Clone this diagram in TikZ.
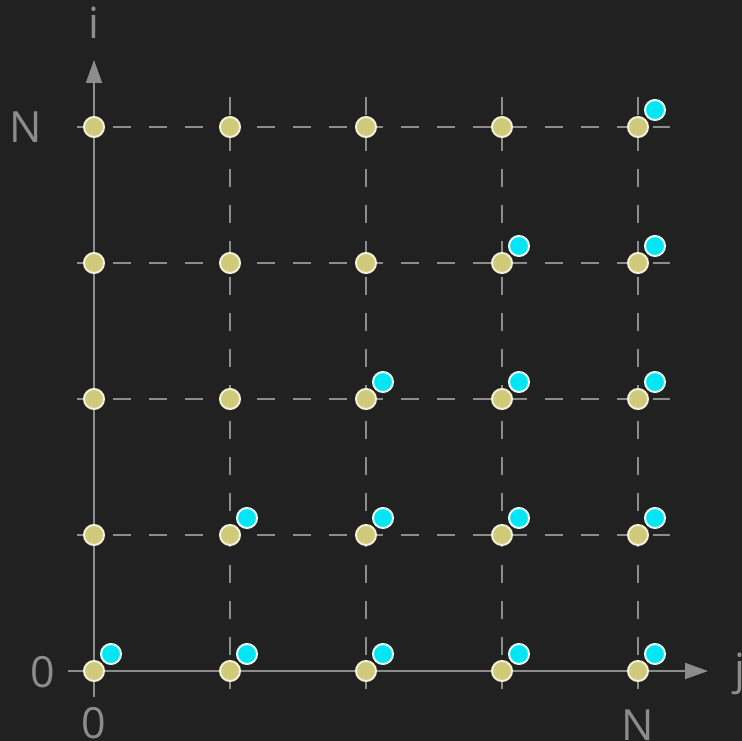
\documentclass[tikz,border=0pt]{standalone}
\usepackage{fontspec}
\setmainfont{Open Sans}
\usetikzlibrary{arrows.meta}
\definecolor{bg}{HTML}{212121}
\definecolor{axisgray}{HTML}{8C8C8C}
\definecolor{dotyellow}{HTML}{D0C97A}
\definecolor{dotyellowrim}{HTML}{F3F1DA}
\definecolor{dotcyan}{HTML}{00E6F4}
\definecolor{dotcyanrim}{HTML}{EAFFFF}
\tikzset{
  gridline/.style={draw=axisgray, line width=1.6pt, dash pattern=on 18pt off 18pt},
  axisline/.style={draw=axisgray, line width=2pt, -{Triangle[length=23pt,width=16pt]}},
  ydot/.style={circle, fill=dotyellow, draw=dotyellowrim, line width=2pt, minimum size=20pt, inner sep=0pt},
  cdot/.style={circle, fill=dotcyan, draw=dotcyanrim, line width=2pt, minimum size=20pt, inner sep=0pt},
  lbl/.style={text=axisgray, font=\fontsize{43}{48}\selectfont, inner sep=0pt, anchor=base}
}
\begin{document}
\begin{tikzpicture}[x=1pt,y=-1pt]
\fill[bg] (0,0) rectangle (742,741);
\useasboundingbox (0,0) rectangle (742,741);
% grid line end points
\foreach \k in {0,...,3} {
  \coordinate (hl\k) at (77,127+136*\k);
  \coordinate (hr\k) at (670,127+136*\k);
}
\foreach \k in {1,...,4} {
  \coordinate (vt\k) at (94+136*\k,97);
  \coordinate (vb\k) at (94+136*\k,689);
}
\foreach \k in {0,...,3} \draw[gridline] (hl\k) -- (hr\k);
\foreach \k in {1,...,4} \draw[gridline] (vt\k) -- (vb\k);
% axes
\coordinate (xs) at (68,671);
\coordinate (xe) at (708,671);
\coordinate (ys) at (94,697);
\coordinate (ye) at (94,60);
\draw[axisline] (xs) -- (xe);
\draw[axisline] (ys) -- (ye);
% labels
\node[lbl] (li) at (94,39) {i};
\node[lbl] (lj) at (740,684) {j};
\node[lbl] (lNi) at (26,143) {N};
\node[lbl] (l0i) at (43,687) {0};
\node[lbl] (l0j) at (94,738) {0};
\node[lbl] (lNj) at (638,740) {N};
% dots
\foreach \j in {0,...,4} {
  \foreach \i in {0,...,4} {
    \node[ydot] (y\j\i) at (94+136*\j,671-136*\i) {};
  }
}
\foreach \j in {0,...,4} {
  \foreach \i in {0,...,\j} {
    \node[cdot] (c\j\i) at ([shift={(17,-17)}]y\j\i.center) {};
  }
}
\end{tikzpicture}
\end{document}
